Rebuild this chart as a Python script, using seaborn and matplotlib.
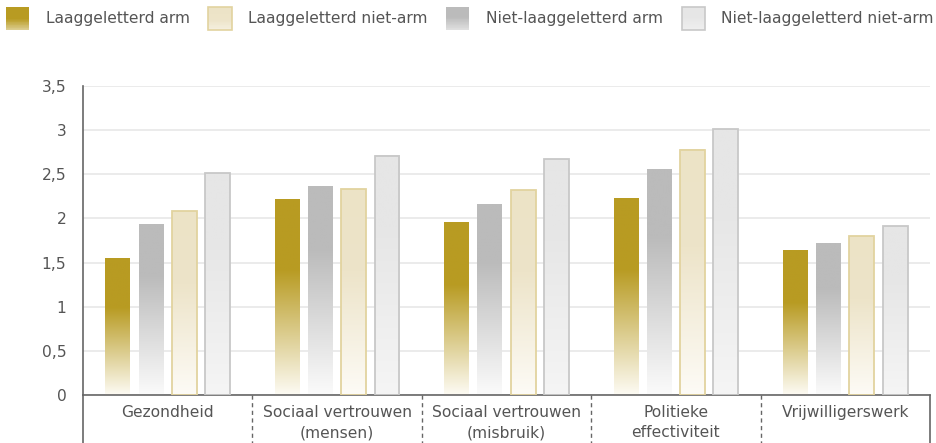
import numpy as np
import pandas as pd
import matplotlib
matplotlib.use("Agg")
import matplotlib.pyplot as plt
from matplotlib.colors import LinearSegmentedColormap
from matplotlib.patches import Rectangle
from matplotlib.legend_handler import HandlerBase
from matplotlib.ticker import FuncFormatter
import seaborn as sns

# Data
categories = ["Gezondheid", "Sociaal vertrouwen\n(mensen)", "Sociaal vertrouwen\n(misbruik)",
              "Politieke\neffectiviteit", "Vrijwilligerswerk"]
lg_arm = [1.55, 2.22, 1.95, 2.23, 1.64]
nlg_arm = [1.93, 2.36, 2.16, 2.55, 1.72]
lg_niet_arm = [2.08, 2.33, 2.32, 2.78, 1.80]
nlg_niet_arm = [2.51, 2.71, 2.67, 3.01, 1.91]

groups = ["Laaggeletterd arm", "Niet-laaggeletterd arm",
          "Laaggeletterd niet-arm", "Niet-laaggeletterd niet-arm"]
legend_order = ["Laaggeletterd arm", "Laaggeletterd niet-arm",
                "Niet-laaggeletterd arm", "Niet-laaggeletterd niet-arm"]

df = pd.DataFrame({
    "categorie": categories * 4,
    "groep": [g for g in groups for _ in categories],
    "waarde": lg_arm + nlg_arm + lg_niet_arm + nlg_niet_arm,
})

# gradient styles per group: (colormap bottom->top, edge colour)
styles = {
    "Laaggeletterd arm": (LinearSegmentedColormap.from_list(
        "gold", [(0, "#fdfbf4"), (0.64, "#b89b22"), (1, "#b89b22")]), None),
    "Niet-laaggeletterd arm": (LinearSegmentedColormap.from_list(
        "grey", [(0, "#fbfbfb"), (0.7, "#bbbbbb"), (1, "#bbbbbb")]), None),
    "Laaggeletterd niet-arm": (LinearSegmentedColormap.from_list(
        "cream", [(0, "#fdfbf6"), (0.6, "#ede4c9"), (1, "#ece3c6")]), "#e2d39f"),
    "Niet-laaggeletterd niet-arm": (LinearSegmentedColormap.from_list(
        "light", [(0, "#f5f5f5"), (0.7, "#e6e6e6"), (1, "#e6e6e6")]), "#c8c8c8"),
}

text_col = "#555555"
line_col = "#666666"
fs = 11.2

sns.set_theme(style="white")
plt.rcParams["font.family"] = ["DejaVu Sans"]

fig = plt.figure(figsize=(9.36, 4.43), dpi=100)
ax = fig.add_axes([83 / 936, 48 / 443, 847 / 936, 309 / 443])

sns.barplot(data=df, x="categorie", y="waarde", hue="groep", hue_order=groups,
            order=categories, width=0.785, gap=0.25, legend=False, ax=ax,
            errorbar=None)

grad = np.linspace(0, 1, 256).reshape(-1, 1)
for grp, cont in zip(groups, ax.containers):
    cmap, edge = styles[grp]
    img = cmap(grad)
    for p in cont.patches:
        x0, w, h = p.get_x(), p.get_width(), p.get_height()
        ax.imshow(img, extent=(x0, x0 + w, 0, h), origin="lower", aspect="auto",
                  zorder=2, interpolation="bilinear")
        p.set_facecolor("none")
        if edge:
            p.set_edgecolor(edge)
            p.set_linewidth(1.3)
        else:
            p.set_edgecolor("none")
        p.set_zorder(3)

ax.set_xlim(-0.5, len(categories) - 0.5)
ax.set_ylim(0, 3.5)

# grid
ax.set_yticks(np.arange(0, 3.51, 0.5))
ax.yaxis.grid(True, color="#e8e8e8", linewidth=1.2, zorder=0)
ax.set_axisbelow(True)
ax.yaxis.set_major_formatter(FuncFormatter(lambda v, _: f"{v:g}".replace(".", ",")))

ax.set_xlabel("")
ax.set_ylabel("")
ax.tick_params(axis="both", length=0, colors=text_col, labelsize=fs)
ax.tick_params(axis="y", pad=12)
ax.tick_params(axis="x", pad=7)
for lab in ax.get_xticklabels():
    lab.set_linespacing(1.45)
    lab.set_verticalalignment("top")

for s in ["top", "right"]:
    ax.spines[s].set_visible(False)
for s in ["left", "bottom"]:
    ax.spines[s].set_color(line_col)
    ax.spines[s].set_linewidth(1.2)

# category box below the axis
trans = ax.get_xaxis_transform()
ybot = -48 / 309
for xb in np.arange(0.5, len(categories) - 1, 1.0):
    ax.plot([xb, xb], [0, ybot], transform=trans, color=line_col, lw=1,
            ls=(0, (3, 2.5)), clip_on=False)
ax.plot([-0.5, -0.5], [0, ybot], transform=trans, color=line_col, lw=1.2, clip_on=False)
ax.plot([len(categories) - 0.5] * 2, [0, ybot], transform=trans, color=line_col,
        lw=1.2, clip_on=False)


# legend with gradient swatches
class GradientHandler(HandlerBase):
    def __init__(self, cmap, edge):
        super().__init__()
        self.cmap = cmap
        self.edge = edge

    def create_artists(self, legend, orig_handle, xdescent, ydescent, width, height,
                       fontsize, trans):
        n = 30
        arts = []
        for i in range(n):
            t = 0.3 + 0.7 * (i + 0.5) / n
            r = Rectangle((-xdescent, -ydescent + i * height / n), width, height / n * 1.1,
                          facecolor=self.cmap(t), edgecolor="none", transform=trans)
            arts.append(r)
        if self.edge:
            arts.append(Rectangle((-xdescent, -ydescent), width, height, facecolor="none",
                                  edgecolor=self.edge, lw=1.2, transform=trans))
        return arts


handles = [Rectangle((0, 0), 1, 1) for _ in legend_order]
hmap = {h: GradientHandler(*styles[g]) for h, g in zip(handles, legend_order)}
fig.legend(handles, legend_order, handler_map=hmap, loc="upper left",
           bbox_to_anchor=(6 / 936, 1 - 7 / 443), ncol=4, frameon=False,
           fontsize=fs, labelcolor=text_col, handlelength=1.5, handleheight=1.9,
           handletextpad=1.05, columnspacing=1.2, borderpad=0, borderaxespad=0)

fig.savefig("out.png", dpi=100)
